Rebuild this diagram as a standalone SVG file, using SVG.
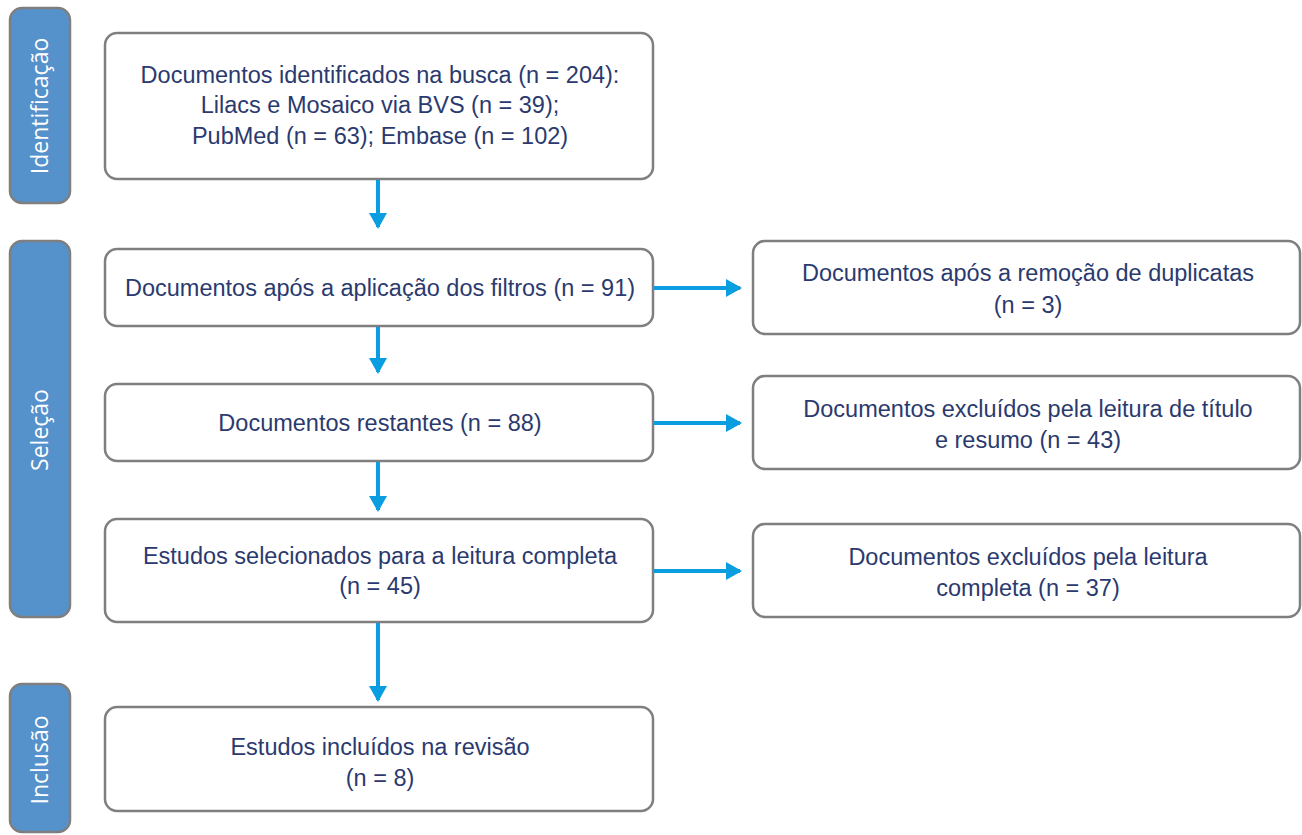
<svg xmlns="http://www.w3.org/2000/svg" width="1302" height="835" viewBox="0 0 1302 835">
<style>
.side{fill:#5591cb;stroke:#7f7f7f;stroke-width:2.5}
.box{fill:#ffffff;stroke:#7f7f7f;stroke-width:2.5}
.t{font-family:"Liberation Sans",Arial,sans-serif;font-size:23.5px;fill:#2b3a6e;text-anchor:middle}
.st{font-family:"Open Sans","Liberation Sans",sans-serif;font-size:23px;fill:#ffffff;text-anchor:middle}
.c{stroke:#0a9ee0;stroke-width:4;fill:none}
</style>
<defs>
<marker id="ah" markerUnits="userSpaceOnUse" markerWidth="16" markerHeight="18" refX="14" refY="9" orient="auto">
<path d="M0,0 L16,9 L0,18 Z" fill="#0a9ee0"/>
</marker>
</defs>
<rect width="1302" height="835" fill="#ffffff"/>
<g id="side-identificacao">
<rect class="side" x="10" y="8" width="60" height="195" rx="12"/>
<text class="st" transform="translate(48,106) rotate(-90)">Identificação</text>
</g>
<g id="side-selecao">
<rect class="side" x="10" y="241" width="60" height="376" rx="12"/>
<text class="st" transform="translate(48,430) rotate(-90)">Seleção</text>
</g>
<g id="side-inclusao">
<rect class="side" x="10" y="684" width="60" height="148" rx="12"/>
<text class="st" transform="translate(48,760) rotate(-90)">Inclusão</text>
</g>
<g id="n1">
<rect class="box" x="105" y="33" width="548" height="146" rx="12"/>
<text class="t" x="380" y="83">Documentos identificados na busca (n = 204):</text>
<text class="t" x="380" y="113">Lilacs e Mosaico via BVS (n = 39);</text>
<text class="t" x="380" y="144">PubMed (n = 63); Embase (n = 102)</text>
</g>
<g id="n2">
<rect class="box" x="105" y="249" width="548" height="77" rx="12"/>
<text class="t" x="380" y="296">Documentos após a aplicação dos filtros (n = 91)</text>
</g>
<g id="n3">
<rect class="box" x="105" y="384" width="548" height="77" rx="12"/>
<text class="t" x="380" y="431">Documentos restantes (n = 88)</text>
</g>
<g id="n4">
<rect class="box" x="105" y="519" width="548" height="103" rx="12"/>
<text class="t" x="380" y="564">Estudos selecionados para a leitura completa</text>
<text class="t" x="380" y="594">(n = 45)</text>
</g>
<g id="n5">
<rect class="box" x="105" y="707" width="548" height="104" rx="12"/>
<text class="t" x="380" y="755">Estudos incluídos na revisão</text>
<text class="t" x="380" y="786">(n = 8)</text>
</g>
<g id="r1">
<rect class="box" x="753" y="241" width="547" height="93" rx="12"/>
<text class="t" x="1028" y="281">Documentos após a remoção de duplicatas</text>
<text class="t" x="1028" y="313">(n = 3)</text>
</g>
<g id="r2">
<rect class="box" x="753" y="376" width="547" height="93" rx="12"/>
<text class="t" x="1028" y="417">Documentos excluídos pela leitura de título</text>
<text class="t" x="1028" y="448">e resumo (n = 43)</text>
</g>
<g id="r3">
<rect class="box" x="753" y="524" width="547" height="93" rx="12"/>
<text class="t" x="1028" y="565">Documentos excluídos pela leitura</text>
<text class="t" x="1028" y="596">completa (n = 37)</text>
</g>
<g id="connectors">
<line class="c" x1="378" y1="180" x2="378" y2="227" marker-end="url(#ah)"/>
<line class="c" x1="378" y1="327" x2="378" y2="372" marker-end="url(#ah)"/>
<line class="c" x1="378" y1="462" x2="378" y2="510" marker-end="url(#ah)"/>
<line class="c" x1="378" y1="623" x2="378" y2="700" marker-end="url(#ah)"/>
<line class="c" x1="654" y1="288" x2="740" y2="288" marker-end="url(#ah)"/>
<line class="c" x1="654" y1="423" x2="740" y2="423" marker-end="url(#ah)"/>
<line class="c" x1="654" y1="571" x2="740" y2="571" marker-end="url(#ah)"/>
</g>
</svg>
